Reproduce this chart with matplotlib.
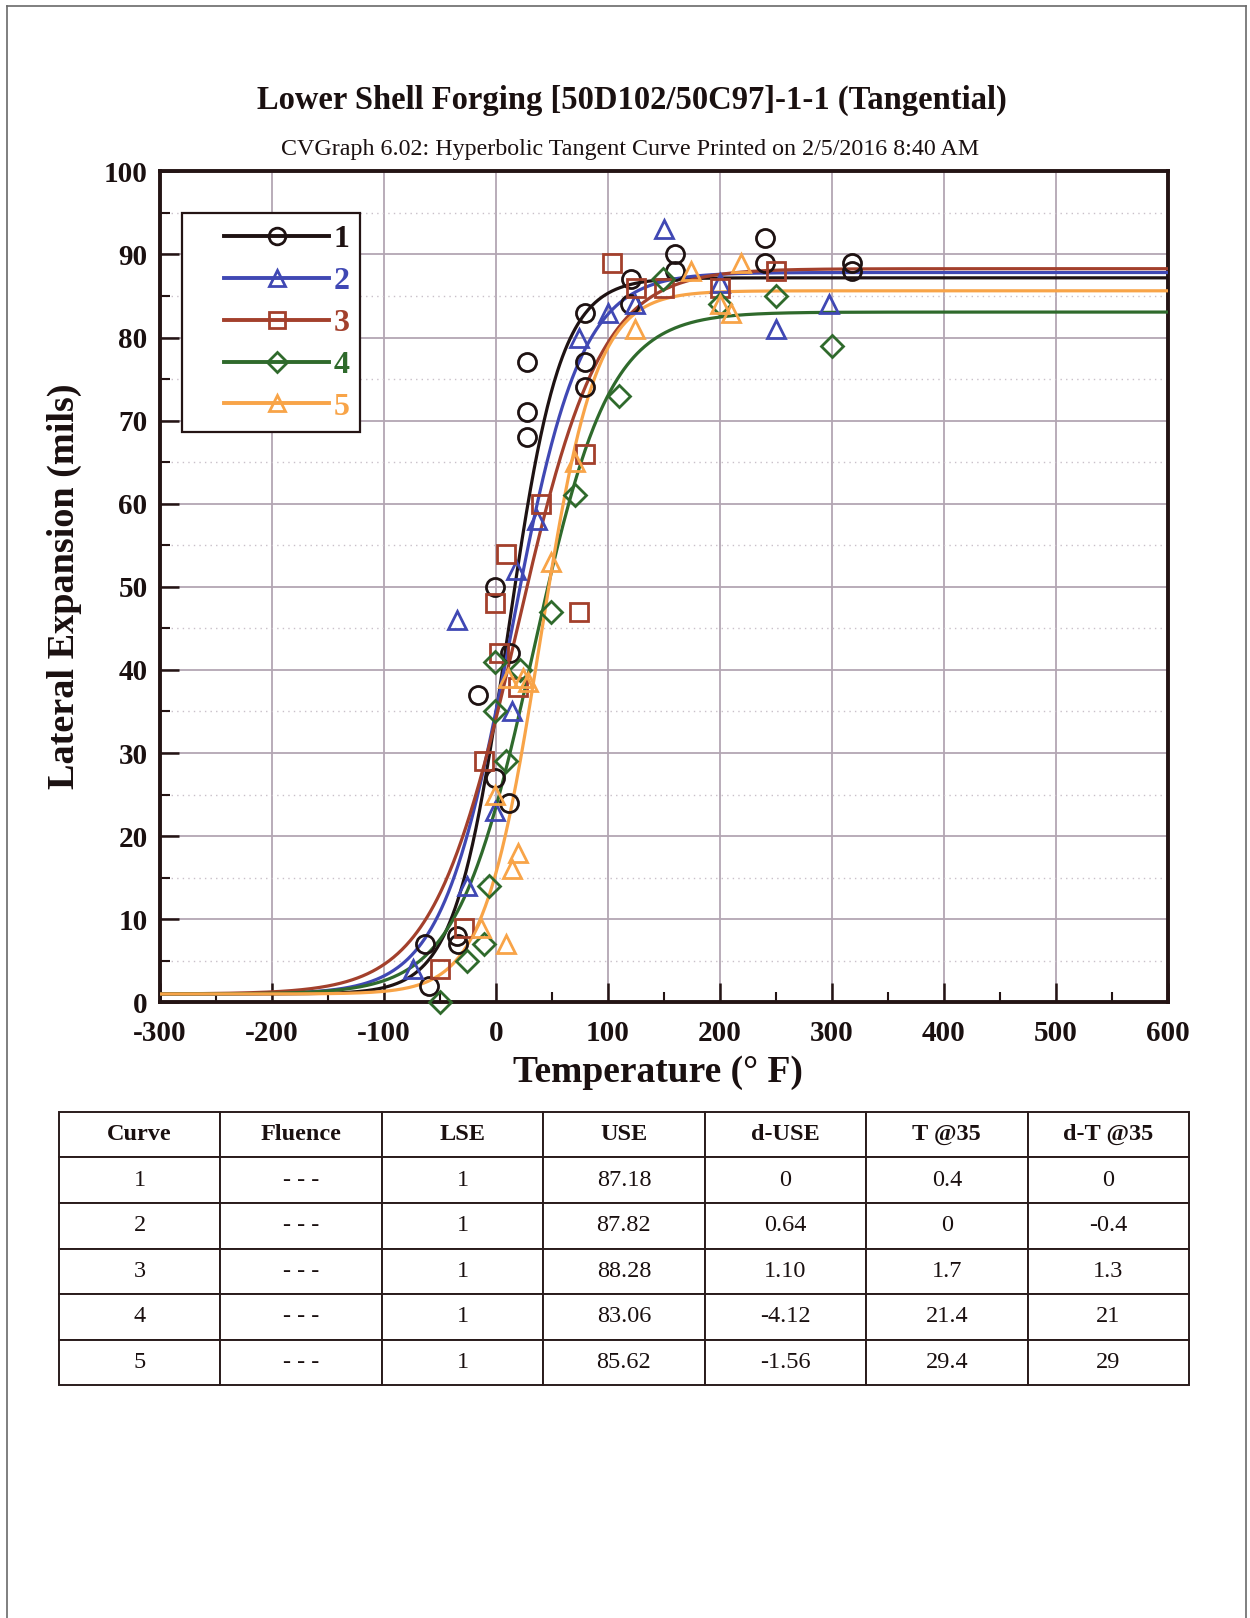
import numpy as np
import matplotlib
matplotlib.use("Agg")
import matplotlib.pyplot as plt
from matplotlib.lines import Line2D
from matplotlib.patches import Rectangle
from matplotlib.ticker import MultipleLocator

plt.rcParams['font.family'] = ['Liberation Serif', 'DejaVu Serif']
plt.rcParams['axes.unicode_minus'] = False

# ---------------- data ----------------
curves = ['1', '2', '3', '4', '5']
colors = ['#1e1212', '#4048b4', '#a3402c', '#2f6a2c', '#f8a448']
markers = ['o', '^', 's', 'D', '^']

t1 = [-63, -60, -35, -34, -16, -1, -1, 12, 13, 28, 28, 28, 80, 80, 80, 121, 120, 160, 160, 240, 240, 318, 318]
l1 = [7, 2, 8, 7, 37, 50, 27, 24, 42, 77, 71, 68, 83, 77, 74, 87, 84, 90, 88, 92, 89, 89, 88]

t2 = [-74, -35, -26, -1, 14, 18, 37, 74, 100, 124, 150, 200, 250, 298]
l2 = [4, 46, 14, 23, 35, 52, 58, 80, 83, 84, 93, 86.5, 81, 84]

t3 = [-50, -28, -11, -1, 3, 9, 20, 40, 74, 80, 104, 125, 150, 200, 250]
l3 = [4, 9, 29, 48, 42, 54, 38, 60, 47, 66, 89, 86, 86, 86, 88]

t4 = [-50, -26, -11, -6, -1, -1, 9, 22, 49, 71, 110, 149, 200, 250, 300]
l4 = [0, 5, 7, 14, 35, 41, 29, 40, 47, 61, 73, 87, 84, 85, 79]

t5 = [-13, -1, 9, 14, 20, 11, 24, 29, 49, 71, 124, 174, 200, 210, 219]
l5 = [9, 25, 7, 16, 18, 39, 39, 38.5, 53, 65, 81, 88, 84, 83, 89]

# fit parameters (table values) and estimated tanh width
lse = [1, 1, 1, 1, 1]
use = [87.18, 87.82, 88.28, 83.06, 85.62]
t35 = [0.4, 0, 1.7, 21.4, 29.4]
width_c = [47, 62, 75, 68, 50]

# table text
fluence = ['- - -'] * 5
d_use = ['0', '0.64', '1.10', '-4.12', '-1.56']
t35_txt = ['0.4', '0', '1.7', '21.4', '29.4']
d_t35 = ['0', '-0.4', '1.3', '21', '29']
col_labels = ['Curve', 'Fluence', 'LSE', 'USE', 'd-USE', 'T @35', 'd-T @35']

temps = [t1, t2, t3, t4, t5]
vals = [l1, l2, l3, l4, l5]

# ---------------- figure ----------------
fig = plt.figure(figsize=(12.5, 16.18), dpi=100)
W, H = 1250, 1618
ink = '#1a1010'

def fx(px):
    return px / W

def fy(py):
    return 1 - py / H

# page border (scanned page edge)
for (xa, ya, xb, yb) in [(7, 6, 1246, 6), (7, 6, 7, 1618), (1246, 6, 1246, 1618)]:
    fig.add_artist(Line2D([fx(xa), fx(xb)], [fy(ya), fy(yb)], color='#6a6a6a', lw=1.2))

fig.text(fx(632), fy(100), 'Lower Shell Forging [50D102/50C97]-1-1 (Tangential)',
         ha='center', va='center', fontsize=23.5, fontweight='bold', color=ink)
fig.text(fx(630), fy(150), 'CVGraph 6.02: Hyperbolic Tangent Curve Printed on 2/5/2016 8:40 AM',
         ha='center', va='center', fontsize=17.3, color=ink)

ax = fig.add_axes([fx(160), fy(1002.3), fx(1167.5) - fx(160), fy(171.3) - fy(1002.3)])
ax.set_xlim(-300, 600)
ax.set_ylim(0, 100)

ax.xaxis.set_major_locator(MultipleLocator(100))
ax.xaxis.set_minor_locator(MultipleLocator(50))
ax.yaxis.set_major_locator(MultipleLocator(10))
ax.yaxis.set_minor_locator(MultipleLocator(5))
ax.grid(which='major', color='#b3a6b3', lw=1.3, zorder=0)
ax.grid(which='minor', axis='y', color='#c9c0c9', lw=1.0, ls=(0, (1, 3)), zorder=0)
ax.set_axisbelow(True)

frame_col = '#241414'
for s in ax.spines.values():
    s.set_linewidth(2.8)
    s.set_color(frame_col)
ax.tick_params(which='major', direction='in', length=14, width=1.8, color=frame_col,
               top=False, right=False, labelsize=21)
ax.tick_params(axis='x', which='major', pad=13)
ax.tick_params(axis='y', which='major', pad=9)
ax.tick_params(which='minor', direction='in', length=7, width=1.5, color=frame_col,
               top=False, right=False)
for lab in ax.get_xticklabels() + ax.get_yticklabels():
    lab.set_fontweight('bold')
    lab.set_color(ink)

tt = np.linspace(-300, 600, 1200)
handles = []
for i in range(5):
    A = (use[i] + lse[i]) / 2.0
    B = (use[i] - lse[i]) / 2.0
    t0 = t35[i] - width_c[i] * np.arctanh((35 - A) / B)
    yy = A + B * np.tanh((tt - t0) / width_c[i])
    ax.plot(tt, yy, color=colors[i], lw=2.3, zorder=3 + i * 0.1)
    ms = 13 if markers[i] != 'D' else 11.5
    ax.plot(temps[i], vals[i], ls='none', marker=markers[i], ms=ms, mfc='none',
            mec=colors[i], mew=2.0, zorder=4, clip_on=False)
    handles.append(Line2D([], [], color=colors[i], lw=2.8, marker=markers[i],
                          ms=(12 if markers[i] != 'D' else 10.5), mfc='none',
                          mec=colors[i], mew=2.0))

# legend frame (drawn separately to reproduce the wide left margin)
ax_w = 1167.5 - 160
ax_h = 1002.3 - 171.3
def axx(px):
    return (px - 160) / ax_w

def axy(py):
    return (1002.3 - py) / ax_h

ax.add_patch(Rectangle((axx(181.7), axy(431.7)), axx(360) - axx(181.7), axy(213.3) - axy(431.7),
                       transform=ax.transAxes, facecolor='white', edgecolor=frame_col,
                       lw=1.6, zorder=9))
leg = ax.legend(handles, curves, loc='upper left', bbox_to_anchor=(axx(224), axy(225)),
                borderaxespad=0, borderpad=0, frameon=False, handlelength=3.3,
                handletextpad=0.12, labelspacing=0.39,
                prop={'size': 23, 'weight': 'bold'})
for txt, c in zip(leg.get_texts(), colors):
    txt.set_color(c)
leg.set_zorder(10)

fig.text(fx(658), fy(1073), 'Temperature (° F)', ha='center', va='center',
         fontsize=27, fontweight='bold', color=ink)
fig.text(fx(64), fy(586), 'Lateral Expansion (mils)', ha='center', va='center',
         rotation=90, fontsize=27.5, fontweight='bold', color=ink)

# ---------------- table ----------------
tax = fig.add_axes([fx(58.8), fy(1385.3), fx(1189) - fx(58.8), fy(1111.7) - fy(1385.3)])
tax.axis('off')
cell_text = []
for i in range(5):
    cell_text.append([curves[i], fluence[i], str(lse[i]), '%.2f' % use[i],
                      d_use[i], t35_txt[i], d_t35[i]])
tbl = tax.table(cellText=cell_text, colLabels=col_labels, cellLoc='center',
                loc='center', bbox=[0, 0, 1, 1])
tbl.auto_set_font_size(False)
for (r, c), cell in tbl.get_celld().items():
    cell.set_edgecolor('#2a1c1c')
    cell.set_linewidth(1.4)
    cell.get_text().set_fontsize(17.5)
    cell.get_text().set_color(ink)
    if r == 0:
        cell.get_text().set_fontweight('bold')

fig.savefig('out.png', dpi=100)
